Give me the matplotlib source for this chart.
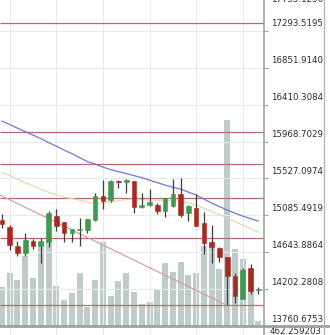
import matplotlib
matplotlib.use("Agg")
import matplotlib.pyplot as plt
import matplotlib.transforms as mtransforms
import numpy as np

# ---- daily candles (open / high / low / close) ----
opens = [15028, 14941, 14717, 14630, 14780, 14720, 14768, 15076, 15008, 14869,
         14905, 14908, 15028, 15315, 15267, 15495, 15488, 15495, 15190, 15208,
         15211, 15139, 15195, 15339, 15108, 15172, 14988, 14765, 14697, 14585,
         14361, 14086, 14450, 14187]
highs = [15096, 14968, 14777, 14872, 14801, 14809, 15139, 15160, 15010, 14916,
         15052, 15040, 15355, 15507, 15507, 15507, 15515, 15500, 15355, 15395,
         15231, 15295, 15522, 15527, 15208, 15339, 15127, 14968, 14709, 14585,
         14390, 14450, 14501, 14223]
lows = [14929, 14669, 14601, 14601, 14677, 14510, 14709, 14896, 14770, 14768,
        14717, 14869, 15020, 15160, 15247, 15411, 15355, 15115, 15175, 15200,
        15096, 15060, 15187, 15067, 15020, 14956, 14618, 14510, 14522, 14011,
        14038, 14079, 14139, 14139]
closes = [14977, 14729, 14630, 14789, 14720, 14777, 15115, 14956, 14869, 14916,
          14912, 15036, 15315, 15259, 15495, 15483, 15497, 15187, 15200, 15247,
          15139, 15291, 15339, 15088, 15195, 14960, 14749, 14709, 14589, 14361,
          14122, 14430, 14178, 14199]
volumes = [1248, 1528, 1382, 1862, 1422, 2048, 2182, 1262, 982, 1122,
           1522, 852, 1382, 2142, 1062, 1362, 1522, 1142, 902, 942,
           1182, 1722, 1542, 1742, 1482, 1522, 2062, 2142, 1602, 4582,
           2002, 1802, 1602, 568]

# ---- moving averages ----
ma_slow = [16212.8, 16170.9, 16129.0, 16087.1, 16045.2, 16003.3, 15955.5, 15913.6,
           15865.7, 15823.8, 15775.9, 15728.1, 15698.1, 15662.2, 15632.3, 15608.4,
           15584.5, 15560.5, 15536.6, 15506.7, 15476.7, 15446.8, 15422.9, 15399.0,
           15363.0, 15327.1, 15279.3, 15231.4, 15189.5, 15147.6, 15111.7, 15075.8,
           15045.9, 15016.0]
ma_fast = [15596.4, 15560.5, 15518.6, 15476.7, 15434.9, 15399.0, 15363.0, 15333.1,
           15303.2, 15285.3, 15267.3, 15243.4, 15225.4, 15231.4, 15243.4, 15261.3,
           15273.3, 15279.3, 15273.3, 15267.3, 15267.3, 15267.3, 15261.3, 15249.3,
           15231.4, 15207.5, 15171.5, 15129.7, 15093.8, 15051.9, 15010.0, 14968.1,
           14926.2, 14884.3]

# ---- support / resistance levels and trend line ----
levels = [17382.0, 16084.7, 15698.1, 15294.8, 14808.9, 14007.1]
trend_x = [-1, 29]
trend_y = [15362.0, 14007.1]

# ---- axis labels ----
price_ticks = ["17735.1256", "17293.5195", "16851.9140", "16410.3084", "15968.7029",
               "15527.0974", "15085.4919", "14643.8864", "14202.2808", "13760.6753"]
volume_floor = "462.259203"
grid_days = [1, 7, 13, 19, 25, 31]

UP, DOWN = "#3d9a4f", "#ab2820"
WICK = "#3c3c3c"
VOL = "#bfcbcb"
LEVEL = "#b86a6a"
GRID = "#e6eaea"
AXIS = "#9aa3a3"
TXT = "#2a2a2a"

W, H = 330, 335
fig = plt.figure(figsize=(W / 100, H / 100), dpi=100)
plt.rcParams["font.family"] = ["DejaVu Sans"]

bottom_px = 326
ax = fig.add_axes([0, (H - bottom_px) / H, 264 / W, bottom_px / H])
vax = ax.twinx()
ax.set_zorder(vax.get_zorder() + 1)
ax.patch.set_visible(False)

tick_vals = [float(t) for t in price_ticks]
step = tick_vals[0] - tick_vals[1]
px_per_step = 36.9
y_lo = tick_vals[-1]
y_hi = y_lo + step * bottom_px / px_per_step
x_lo, x_hi = -0.245, 33.73

vfloor = float(volume_floor)
idx = np.arange(len(opens))

# volume bars
vax.bar(idx, np.array(volumes) - vfloor, bottom=vfloor, width=0.77, color=VOL, linewidth=0)
vax.set_yticks([])
vax.set_ylim(vfloor, vfloor + 20 * bottom_px)
for s in vax.spines.values():
    s.set_visible(False)

# grid (ticks first, limits afterwards so the ticks do not widen the view)
ax.set_yticks(tick_vals)
ax.set_xticks(grid_days)
ax.set_xlim(x_lo, x_hi)
ax.set_ylim(y_lo, y_hi)
ax.grid(True, color=GRID, linewidth=0.8, zorder=0)
ax.yaxis.tick_right()
ax.tick_params(axis="y", length=3, width=0.8, color=AXIS, labelright=False, labelleft=False)
ax.tick_params(axis="x", length=0, labelbottom=False)
for side in ("top", "left"):
    ax.spines[side].set_visible(False)
ax.spines["right"].set_color(AXIS)
ax.spines["right"].set_linewidth(1.2)
ax.spines["bottom"].set_color(AXIS)
ax.spines["bottom"].set_linewidth(2)

# levels, trend line, moving averages
ax.hlines(levels, x_lo, x_hi, colors=LEVEL, linewidth=0.9, zorder=2)
ax.plot(trend_x, trend_y, color="#d3a1a9", linewidth=0.9, zorder=2)
ax.plot(idx, ma_slow, color="#6c7bd2", linewidth=0.9, zorder=3)
ax.plot(idx, ma_fast, color="#e2dba6", linewidth=0.9, zorder=3)

# candles
o = np.array(opens, float)
c = np.array(closes, float)
colors = [UP if cc >= oo else DOWN for oo, cc in zip(o, c)]
ax.vlines(idx, lows, highs, colors=WICK, linewidth=0.9, zorder=4)
body_low = np.minimum(o, c)
body_h = np.maximum(np.abs(c - o), 14)
ax.bar(idx, body_h, bottom=body_low, width=0.6, color=colors,
       edgecolor=colors, linewidth=0.4, zorder=5)
ax.set_xlim(x_lo, x_hi)
ax.set_ylim(y_lo, y_hi)

# price labels to the right of the axis
lab_tr = mtransforms.blended_transform_factory(fig.transFigure, ax.transData)
for text, v in zip(price_ticks, tick_vals):
    if v > y_hi:
        tr = mtransforms.offset_copy(lab_tr, fig=fig, x=0, y=0.5, units="dots")
        ax.text(271.5 / W, y_hi, text, transform=tr, fontsize=6.2, color=TXT,
                va="center", ha="left", clip_on=False)
    else:
        tr = mtransforms.offset_copy(lab_tr, fig=fig, x=0, y=7, units="dots")
        ax.text(271.5 / W, v, text, transform=tr, fontsize=6.2, color=TXT,
                va="center", ha="left", clip_on=False)

vlab_tr = mtransforms.offset_copy(
    mtransforms.blended_transform_factory(fig.transFigure, vax.transData),
    fig=fig, x=0, y=-5.7, units="dots")
vax.text(270 / W, vfloor, volume_floor, transform=vlab_tr, fontsize=6.2,
         color=TXT, va="center", ha="left", clip_on=False)

# strip under the price pane
strip = fig.add_axes([0, 0, 264 / W, (H - bottom_px) / H])
strip.set_xticks(grid_days)
strip.set_xlim(x_lo, x_hi)
strip.set_yticks([])
strip.grid(True, axis="x", color=GRID, linewidth=0.8)
strip.tick_params(axis="x", length=0, labelbottom=False)
for side in ("top", "left", "bottom"):
    strip.spines[side].set_visible(False)
strip.spines["right"].set_color(AXIS)
strip.spines["right"].set_linewidth(1.2)
strip.patch.set_visible(False)

# frame pieces on the label column
fig.add_artist(plt.Line2D([264 / W, 1], [(H - bottom_px) / H] * 2,
                          transform=fig.transFigure, color=AXIS, linewidth=2))
fig.add_artist(plt.Line2D([323.5 / W] * 2, [0, 1],
                          transform=fig.transFigure, color="#b0b8b8", linewidth=1))

fig.savefig("out.png", dpi=100, facecolor="white")
